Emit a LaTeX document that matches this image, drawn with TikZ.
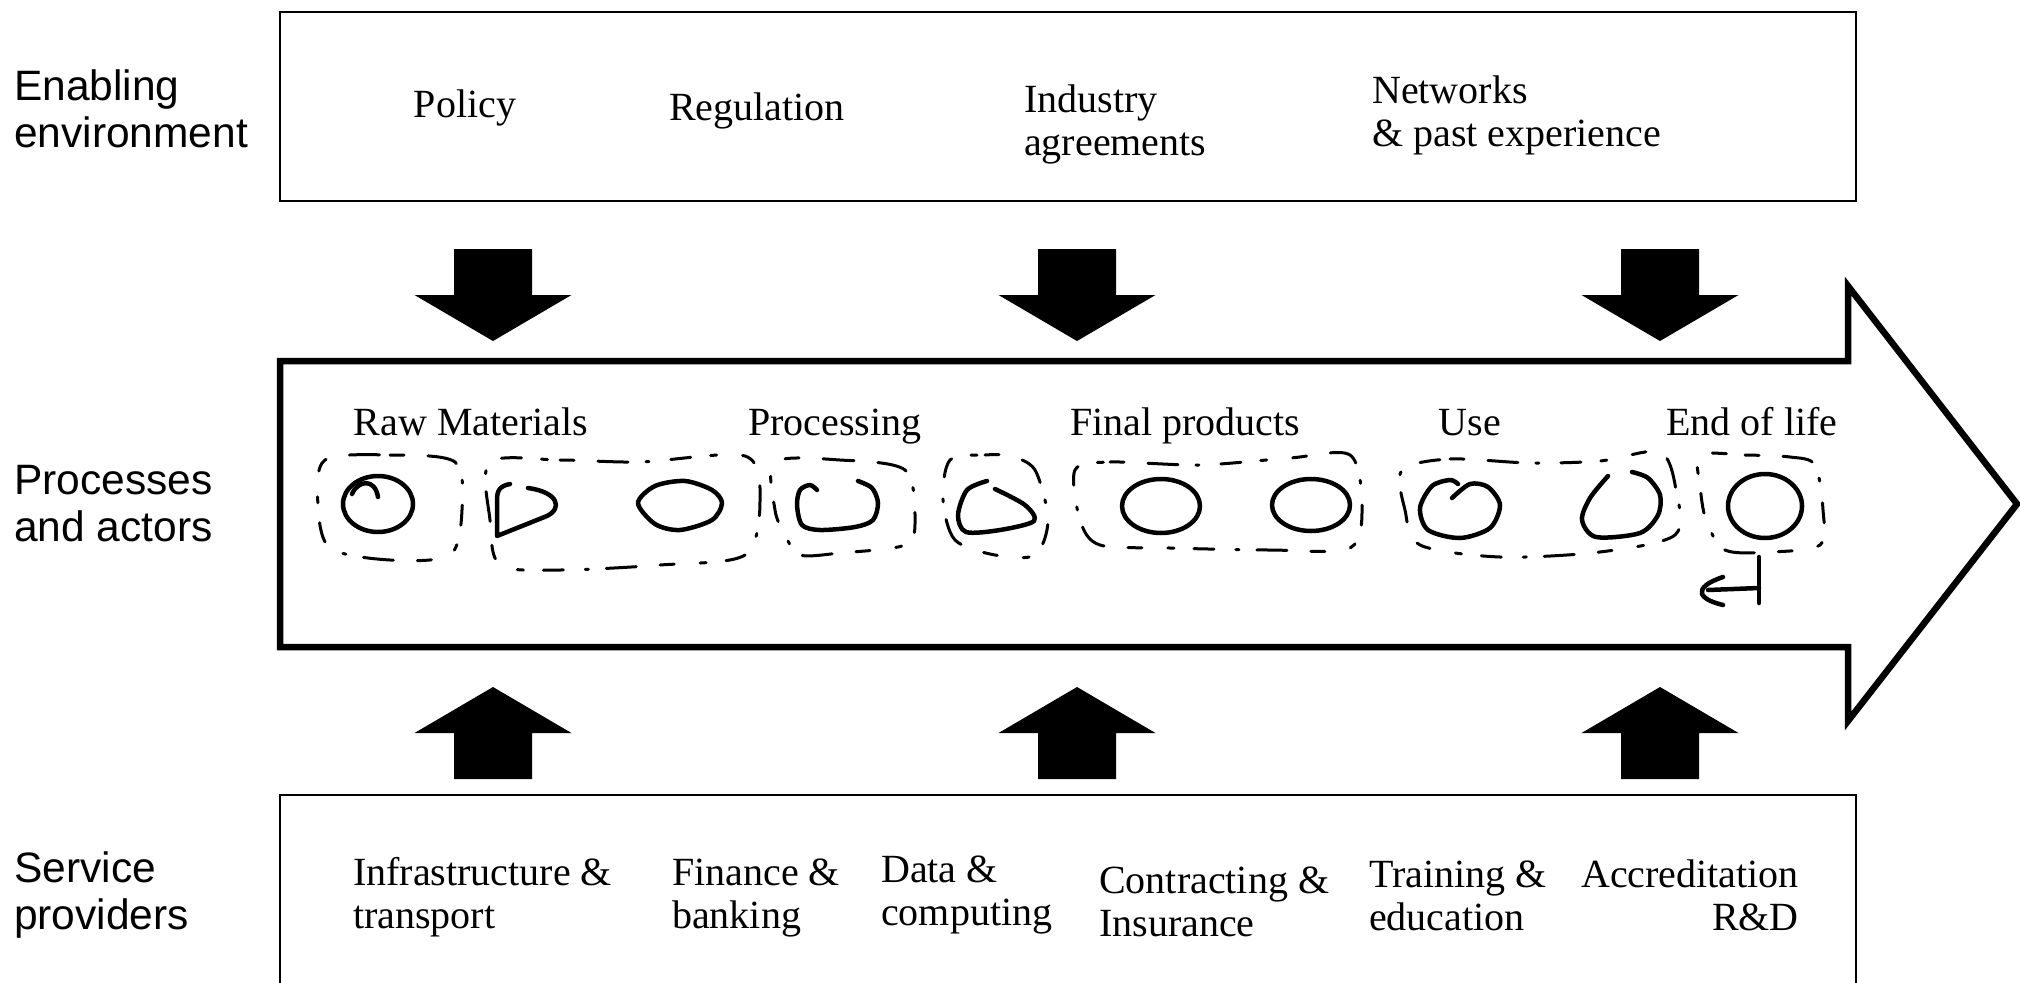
\documentclass[tikz,border=0pt]{standalone}
\usepackage{fontspec}
\setmainfont{Liberation Serif}
\newfontfamily\labelfont{Liberation Sans}
\begin{document}
\begin{tikzpicture}[x=1pt,y=-1pt,
  sidelabel/.style={font=\labelfont\fontsize{42.5}{47}\selectfont, align=left, anchor=base west, inner sep=0pt},
  item/.style={font=\fontsize{40}{43}\selectfont, align=left, anchor=base west, inner sep=0pt},
  itemc/.style={font=\fontsize{40}{43}\selectfont, anchor=base, inner sep=0pt},
  framebox/.style={draw=black, line width=1.8pt},
  blockarrow/.style={fill=black},
  bigarrow/.style={draw=black, line width=6.5pt, miter limit=20, fill=white},
  sketch/.style={draw=black, line width=4.5pt, line cap=round, line join=round},
  outline/.style={draw=black, line width=3pt, line cap=round,
     dash pattern=on 14pt off 24pt on 30pt off 18pt on 3pt off 22pt on 20pt off 20pt on 6pt off 26pt}]
\useasboundingbox (0,0) rectangle (2020,982);
\clip (0,0) rectangle (2020,982);

% frames
\draw[framebox] (280,12) rectangle (1856,201);
\draw[framebox] (280,795) rectangle (1856,1010);

% big process arrow
\draw[bigarrow] (280,361) -- (1848,361) -- (1848,286) -- (2017,504) -- (1848,721) -- (1848,647) -- (280,647) -- cycle;

% block arrows
\foreach \cx in {493,1077,1660}{
  \fill[blockarrow] (\cx-39,249) -- (\cx+39,249) -- (\cx+39,295) -- (\cx+78.5,295) -- (\cx,341) -- (\cx-78.5,295) -- (\cx-39,295) -- cycle;
  \fill[blockarrow] (\cx-39,779) -- (\cx+39,779) -- (\cx+39,733) -- (\cx+78.5,733) -- (\cx,687) -- (\cx-78.5,733) -- (\cx-39,733) -- cycle;
}

% side labels
\node[sidelabel] (env) at (14,147) {Enabling\\environment};
\node[sidelabel] (proc) at (14,541) {Processes\\and actors};
\node[sidelabel] (serv) at (14,929) {Service\\providers};

% enabling environment
\node[itemc] (policy) at (465,117) {Policy};
\node[itemc] (regulation) at (757,120) {Regulation};
\node[item] (industry) at (1024,155) {Industry\\agreements};
\node[item] (networks) at (1372,146) {Networks\\\& past experience};

% processes
\node[itemc] (raw) at (471,435) {Raw Materials};
\node[itemc] (processing) at (835,435) {Processing};
\node[itemc] (final) at (1185,435) {Final products};
\node[itemc] (use) at (1470,435) {Use};
\node[itemc] (eol) at (1752,435) {End of life};

% service providers
\node[item] (infra) at (353,928) {Infrastructure \&\\transport};
\node[item] (finance) at (672,928) {Finance \&\\banking};
\node[item] (data) at (881,925) {Data \&\\computing};
\node[item] (contract) at (1099,936) {Contracting \&\\Insurance};
\node[item] (training) at (1369,930) {Training \&\\education};
\node[item, align=right, anchor=base east] (accr) at (1799,930) {Accreditation\\R\&D};

% hand-drawn actors
\draw[sketch] (378,504) ellipse [x radius=35pt, y radius=28pt];
\draw[sketch] (352,494) .. controls (358,480) and (375,478) .. (378,497);
\draw[sketch] (510,484) .. controls (500,486) and (497,490) .. (497,500) -- (497,536) -- (547,516) .. controls (563,508) and (558,492) .. (528,488);
\draw[sketch] plot[smooth cycle] coordinates {(638,503) (655,486) (685,481) (712,490) (722,503) (712,520) (680,530) (655,524)};
\draw[sketch] plot[smooth] coordinates {(817,490) (810,485) (800,490) (797,505) (802,525) (820,530) (855,527) (873,520) (878,503) (872,488) (858,481)};
\draw[sketch] plot[smooth] coordinates {(987,481) (967,490) (958,515) (966,532) (1000,530) (1034,521) (1025,505) (995,489)};
\draw[sketch] (1161,506) ellipse [x radius=39pt, y radius=27pt];
\draw[sketch] (1311,505) ellipse [x radius=39pt, y radius=26pt];
\draw[sketch] plot[smooth] coordinates {(1452,498) (1470,484) (1488,487) (1500,505) (1490,528) (1460,538) (1428,530) (1420,508) (1432,486) (1450,480) (1458,484)};
\draw[sketch] plot[smooth] coordinates {(1608,476) (1590,498) (1582,520) (1596,537) (1640,533) (1658,515) (1660,495) (1648,478) (1632,472)};
\draw[sketch] (1765,506) ellipse [x radius=37pt, y radius=32pt];
\draw[sketch] (1759,557) -- (1759,603);
\draw[sketch] (1759,588) -- (1708,590);
\draw[sketch] (1723,577) .. controls (1708,582) and (1700,588) .. (1702,594) .. controls (1705,600) and (1715,603) .. (1723,605);

% dashed groupings
\draw[outline] plot[smooth cycle] coordinates {(325,460) (390,455) (455,462) (462,510) (450,555) (390,560) (330,548) (318,505)};
\draw[outline] plot[smooth cycle] coordinates {(490,462) (560,460) (640,462) (745,456) (760,500) (745,555) (660,565) (560,570) (500,565) (490,520)};
\draw[outline] plot[smooth cycle] coordinates {(775,462) (840,460) (905,470) (915,520) (905,545) (840,553) (800,555) (785,535) (775,510)};
\draw[outline] plot[smooth cycle] coordinates {(950,460) (985,455) (1010,456) (1035,470) (1048,520) (1035,555) (995,555) (955,540) (943,500)};
\draw[outline] plot[smooth cycle] coordinates {(1075,470) (1110,462) (1200,465) (1290,458) (1350,455) (1362,505) (1350,548) (1270,550) (1170,548) (1100,545) (1080,520)};
\draw[outline] plot[smooth cycle] coordinates {(1402,470) (1450,459) (1530,463) (1600,461) (1660,452) (1676,490) (1675,535) (1600,552) (1500,557) (1420,545) (1405,510)};
\draw[outline] plot[smooth cycle] coordinates {(1700,455) (1745,455) (1790,457) (1815,465) (1823,510) (1820,545) (1770,552) (1725,550) (1706,520) (1700,485)};
\end{tikzpicture}
\end{document}
